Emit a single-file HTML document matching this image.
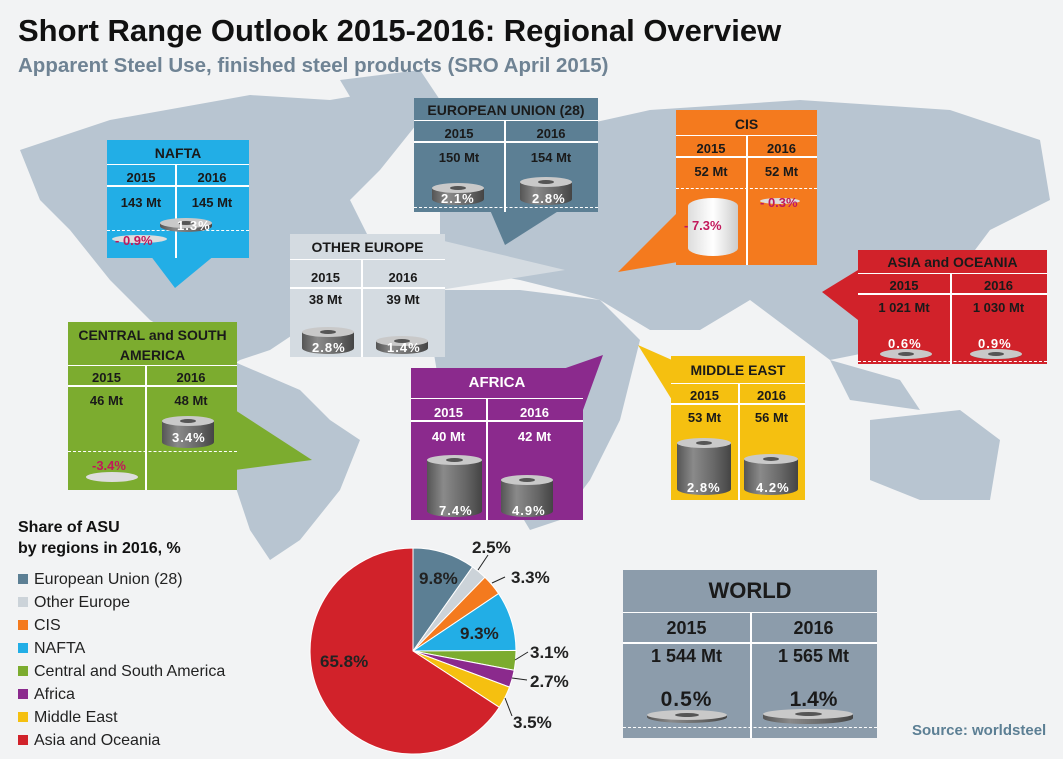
<!DOCTYPE html>
<html><head><meta charset="utf-8"><style>
body{margin:0;width:1063px;height:759px;overflow:hidden;background:#f2f3f4;font-family:"Liberation Sans",Arial,sans-serif;position:relative}
.abs{position:absolute}
.box{position:absolute;font-weight:bold;color:#1a1a1a;text-align:center;font-size:13px}
.box .h{position:absolute;left:0;right:0;top:0;border-bottom:1.5px solid #fff;font-size:14px}
.vl{position:absolute;width:1.5px;background:#fff}
.hl{position:absolute;height:1.5px;background:#fff}
.dl{position:absolute;height:0;border-top:1.5px dashed #fff}
.t{position:absolute;font-weight:bold;font-size:13px}
.cyl{position:absolute;background:linear-gradient(90deg,#555,#8a8a8a 30%,#666 70%,#444);border-radius:0 0 50% 50%/0 0 6px 6px}
.cyl:before{content:"";position:absolute;left:0;right:0;top:-5px;height:10px;border-radius:50%;background:#c9c9c9}
.cyl:after{content:"";position:absolute;left:35%;right:35%;top:-2px;height:4px;border-radius:50%;background:#555}
.pc{position:absolute;color:#fff;font-weight:bold;font-size:13px;letter-spacing:1px}
.leg{position:absolute;left:18px;font-size:16px;color:#222}
.leg i{display:inline-block;width:10px;height:10px;margin-right:6px}
</style></head><body>
<svg class="abs" style="left:0;top:0" width="1063" height="759">
<g fill="#b8c5d1">
<path d="M20 150 L110 120 L250 95 L330 100 L390 90 L420 120 L380 170 L350 200 L370 240 L330 290 L300 330 L270 350 L240 360 L210 380 L200 350 L150 320 L110 280 L70 230 L40 200 Z"/>
<path d="M340 80 L420 70 L440 100 L400 140 L370 130 Z"/>
<path d="M230 360 L300 390 L330 420 L360 440 L340 490 L300 540 L270 560 L250 530 L230 470 L220 410 Z"/>
<path d="M440 200 L480 160 L560 130 L650 110 L800 100 L950 110 L1040 140 L1050 200 L990 230 L960 270 L900 300 L880 350 L830 360 L790 330 L750 300 L700 330 L650 330 L600 300 L560 290 L520 280 L460 270 L440 240 Z"/>
<path d="M440 290 L520 290 L600 300 L640 340 L620 420 L590 480 L560 520 L530 530 L500 480 L480 420 L440 390 L430 330 Z"/>
<path d="M870 420 L960 410 L1000 440 L990 500 L920 500 L870 480 Z"/>
<path d="M830 360 L900 380 L920 410 L850 400 Z"/>
</g></svg>
<div class="abs" style="left:18px;top:13px;font-size:31px;font-weight:bold;color:#111">Short Range Outlook 2015-2016: Regional Overview</div>
<div class="abs" style="left:18px;top:54px;font-size:20.5px;font-weight:bold;color:#6f8394">Apparent Steel Use, finished steel products (SRO April 2015)</div>

<svg class="abs" style="left:0;top:0" width="1063" height="759">
<polygon points="150,255 215,255 175,288" fill="#22aee6"/>
<polygon points="490,210 560,210 505,245" fill="#5c7f94"/>
<polygon points="690,200 690,260 618,272" fill="#f47a1e"/>
<polygon points="440,240 440,290 565,270" fill="#d4dbe1"/>
<polygon points="858,270 858,320 822,292" fill="#d1222a"/>
<polygon points="235,410 235,470 312,460" fill="#7cac2f"/>
<polygon points="560,370 583,370 583,410 603,355" fill="#8b2a8d"/>
<polygon points="672,360 700,360 672,400 638,345" fill="#f5c010"/>
</svg>

<!-- NAFTA -->
<div class="box" style="left:107px;top:140px;width:142px;height:118px;background:#22aee6">
<div class="h" style="height:24px;line-height:27px">NAFTA</div>
<div class="vl" style="left:68px;top:24px;height:94px"></div><div class="hl" style="left:0;right:0;top:45px"></div>
<div class="t" style="left:0;width:68px;top:30px">2015</div><div class="t" style="left:68px;width:74px;top:30px">2016</div>
<div class="t" style="left:0;width:68px;top:55px">143 Mt</div><div class="t" style="left:68px;width:74px;top:55px">145 Mt</div>
<div class="dl" style="left:0;right:0;top:90px"></div>
<div class="cyl" style="left:53px;top:83px;width:52px;height:9px"></div><div class="pc" style="left:70px;top:78px">1.3%</div>
<div class="abs" style="left:5px;top:95px;width:55px;height:8px;background:#ddd;border-radius:50%"></div><div class="t" style="left:8px;top:93px;color:#c2185b">- 0.9%</div>
</div>
<!-- EU -->
<div class="box" style="left:414px;top:98px;width:184px;height:114px;background:#5c7f94">
<div class="h" style="height:22px;line-height:24px">EUROPEAN UNION (28)</div>
<div class="vl" style="left:90px;top:22px;height:92px"></div><div class="hl" style="left:0;right:0;top:43px"></div>
<div class="t" style="left:0;width:90px;top:28px">2015</div><div class="t" style="left:90px;width:94px;top:28px">2016</div>
<div class="t" style="left:0;width:90px;top:52px">150 Mt</div><div class="t" style="left:90px;width:94px;top:52px">154 Mt</div>
<div class="cyl" style="left:18px;top:90px;width:52px;height:17px"></div><div class="pc" style="left:27px;top:93px">2.1%</div>
<div class="cyl" style="left:106px;top:84px;width:52px;height:23px"></div><div class="pc" style="left:118px;top:93px">2.8%</div>
<div class="dl" style="left:0;right:0;top:109px"></div>
</div>
<!-- CIS -->
<div class="box" style="left:676px;top:110px;width:141px;height:155px;background:#f47a1e">
<div class="h" style="height:25px;line-height:28px">CIS</div>
<div class="vl" style="left:70px;top:25px;height:130px"></div><div class="hl" style="left:0;right:0;top:46px"></div>
<div class="t" style="left:0;width:70px;top:31px">2015</div><div class="t" style="left:70px;width:71px;top:31px">2016</div>
<div class="t" style="left:0;width:70px;top:54px">52 Mt</div><div class="t" style="left:70px;width:71px;top:54px">52 Mt</div>
<div class="dl" style="left:0;right:0;top:78px"></div>
<div class="abs" style="left:12px;top:88px;width:50px;height:58px;background:linear-gradient(90deg,#ddd,#fff,#ccc);border-radius:50%/8px"></div><div class="t" style="left:8px;top:108px;color:#c2185b">- 7.3%</div>
<div class="abs" style="left:84px;top:88px;width:40px;height:6px;background:#ddd;border-radius:50%"></div><div class="t" style="left:84px;top:85px;color:#c2185b">- 0.3%</div>
</div>
<!-- Other Europe -->
<div class="box" style="left:290px;top:234px;width:155px;height:123px;background:#d4dbe1">
<div class="h" style="height:25px;line-height:27px">OTHER EUROPE</div>
<div class="vl" style="left:71px;top:25px;height:98px"></div><div class="hl" style="left:0;right:0;top:53px"></div>
<div class="t" style="left:0;width:71px;top:36px">2015</div><div class="t" style="left:71px;width:84px;top:36px">2016</div>
<div class="t" style="left:0;width:71px;top:58px">38 Mt</div><div class="t" style="left:71px;width:84px;top:58px">39 Mt</div>
<div class="cyl" style="left:12px;top:98px;width:52px;height:22px"></div><div class="pc" style="left:22px;top:106px">2.8%</div>
<div class="cyl" style="left:86px;top:107px;width:52px;height:13px"></div><div class="pc" style="left:97px;top:106px">1.4%</div>
</div>
<!-- Asia -->
<div class="box" style="left:858px;top:250px;width:189px;height:114px;background:#d1222a">
<div class="h" style="height:23px;line-height:25px">ASIA and OCEANIA</div>
<div class="vl" style="left:92px;top:23px;height:91px"></div><div class="hl" style="left:0;right:0;top:43px"></div>
<div class="t" style="left:0;width:92px;top:28px">2015</div><div class="t" style="left:92px;width:97px;top:28px">2016</div>
<div class="t" style="left:0;width:92px;top:50px">1 021 Mt</div><div class="t" style="left:92px;width:97px;top:50px">1 030 Mt</div>
<div class="pc" style="left:30px;top:86px;color:#fff">0.6%</div><div class="pc" style="left:120px;top:86px">0.9%</div>
<div class="cyl" style="left:22px;top:104px;width:52px;height:4px"></div><div class="cyl" style="left:112px;top:104px;width:52px;height:5px"></div>
<div class="dl" style="left:0;right:0;top:111px"></div>
</div>
<!-- CSA -->
<div class="box" style="left:68px;top:322px;width:169px;height:168px;background:#7cac2f">
<div class="h" style="height:40px;line-height:20px;padding-top:3px">CENTRAL and SOUTH<br>AMERICA</div>
<div class="vl" style="left:77px;top:43px;height:125px"></div><div class="hl" style="left:0;right:0;top:63px"></div>
<div class="t" style="left:0;width:77px;top:48px">2015</div><div class="t" style="left:77px;width:92px;top:48px">2016</div>
<div class="t" style="left:0;width:77px;top:71px">46 Mt</div><div class="t" style="left:77px;width:92px;top:71px">48 Mt</div>
<div class="cyl" style="left:94px;top:99px;width:52px;height:27px"></div><div class="pc" style="left:104px;top:108px">3.4%</div>
<div class="dl" style="left:0;right:0;top:129px"></div>
<div class="abs" style="left:18px;top:150px;width:52px;height:10px;background:#ddd;border-radius:50%"></div><div class="t" style="left:24px;top:136px;color:#c2185b">-3.4%</div>
</div>
<!-- Africa -->
<div class="box" style="left:411px;top:368px;width:172px;height:152px;background:#8b2a8d;color:#fff">
<div class="h" style="height:30px;line-height:30px;font-size:15px">AFRICA</div>
<div class="vl" style="left:75px;top:30px;height:122px"></div><div class="hl" style="left:0;right:0;top:52px"></div>
<div class="t" style="left:0;width:75px;top:37px">2015</div><div class="t" style="left:75px;width:97px;top:37px">2016</div>
<div class="t" style="left:0;width:75px;top:61px">40 Mt</div><div class="t" style="left:75px;width:97px;top:61px">42 Mt</div>
<div class="cyl" style="left:16px;top:92px;width:55px;height:57px"></div><div class="pc" style="left:28px;top:135px">7.4%</div>
<div class="cyl" style="left:90px;top:112px;width:52px;height:37px"></div><div class="pc" style="left:101px;top:135px">4.9%</div>
</div>
<!-- ME -->
<div class="box" style="left:671px;top:356px;width:134px;height:144px;background:#f5c010">
<div class="h" style="height:27px;line-height:28px">MIDDLE EAST</div>
<div class="vl" style="left:67px;top:27px;height:117px"></div><div class="hl" style="left:0;right:0;top:47px"></div>
<div class="t" style="left:0;width:67px;top:32px">2015</div><div class="t" style="left:67px;width:67px;top:32px">2016</div>
<div class="t" style="left:0;width:67px;top:54px">53 Mt</div><div class="t" style="left:67px;width:67px;top:54px">56 Mt</div>
<div class="cyl" style="left:6px;top:87px;width:54px;height:52px"></div><div class="pc" style="left:16px;top:124px">2.8%</div>
<div class="cyl" style="left:73px;top:103px;width:54px;height:36px"></div><div class="pc" style="left:85px;top:124px">4.2%</div>
</div>
<!-- World -->
<div class="box" style="left:623px;top:570px;width:254px;height:168px;background:#8c9cab">
<div class="h" style="height:42px;line-height:42px;font-size:22px">WORLD</div>
<div class="vl" style="left:127px;top:42px;height:126px"></div><div class="hl" style="left:0;right:0;top:72px"></div>
<div class="t" style="left:0;width:127px;top:48px;font-size:18px">2015</div><div class="t" style="left:127px;width:127px;top:48px;font-size:18px">2016</div>
<div class="t" style="left:0;width:127px;top:76px;font-size:18px">1 544 Mt</div><div class="t" style="left:127px;width:127px;top:76px;font-size:18px">1 565 Mt</div>
<div class="t" style="left:0;width:127px;top:118px;font-size:21px;letter-spacing:1px">0.5%</div><div class="t" style="left:127px;width:127px;top:118px;font-size:21px">1.4%</div>
<div class="cyl" style="left:24px;top:145px;width:80px;height:8px"></div><div class="cyl" style="left:140px;top:144px;width:90px;height:10px"></div>
<div class="dl" style="left:0;right:0;top:157px"></div>
</div>
<div class="abs" style="left:912px;top:722px;font-size:15px;font-weight:bold;color:#5c7f94">Source: worldsteel</div>

<!-- Legend -->
<div class="abs" style="left:18px;top:517px;font-size:16px;font-weight:bold;line-height:21px;color:#111">Share of ASU<br>by regions in 2016, %</div>
<div class="leg" style="top:571px"><i style="background:#5c7f94"></i>European Union (28)</div>
<div class="leg" style="top:594px"><i style="background:#ccd3d9"></i>Other Europe</div>
<div class="leg" style="top:617px"><i style="background:#f47a1e"></i>CIS</div>
<div class="leg" style="top:640px"><i style="background:#22aee6"></i>NAFTA</div>
<div class="leg" style="top:663px"><i style="background:#7cac2f"></i>Central and South America</div>
<div class="leg" style="top:686px"><i style="background:#8b2a8d"></i>Africa</div>
<div class="leg" style="top:709px"><i style="background:#f5c010"></i>Middle East</div>
<div class="leg" style="top:732px"><i style="background:#d1222a"></i>Asia and Oceania</div>

<svg class="abs" style="left:0;top:0" width="1063" height="759" font-family="Liberation Sans, Arial, sans-serif" font-weight="bold" font-size="17">
<g stroke="#fff" stroke-width="1">
<path d="M413 651 L413 548 A103 103 0 0 1 472.5 566.9 Z" fill="#5c7f94"/>
<path d="M413 651 L472.5 566.9 A103 103 0 0 1 484.9 577.3 Z" fill="#ccd3d9"/>
<path d="M413 651 L484.9 577.3 A103 103 0 0 1 498.6 593.6 Z" fill="#f47a1e"/>
<path d="M413 651 L498.6 593.6 A103 103 0 0 1 516 650.4 Z" fill="#22aee6"/>
<path d="M413 651 L516 650.4 A103 103 0 0 1 514.2 670.3 Z" fill="#7cac2f"/>
<path d="M413 651 L514.2 670.3 A103 103 0 0 1 509.5 687.1 Z" fill="#8b2a8d"/>
<path d="M413 651 L509.5 687.1 A103 103 0 0 1 499.3 707.3 Z" fill="#f5c010"/>
<path d="M413 651 L499.3 707.3 A103 103 0 1 1 413 548 Z" fill="#d1222a"/>
</g>
<g stroke="#222" stroke-width="1"><line x1="478" y1="570" x2="488" y2="555"/><line x1="492" y1="583" x2="505" y2="577"/><line x1="515" y1="660" x2="528" y2="652"/><line x1="512" y1="678" x2="527" y2="680"/><line x1="505" y1="698" x2="512" y2="716"/></g>
<text x="419" y="584" fill="#222">9.8%</text>
<text x="472" y="553" fill="#222">2.5%</text>
<text x="511" y="583" fill="#222">3.3%</text>
<text x="460" y="639" fill="#222">9.3%</text>
<text x="530" y="658" fill="#222">3.1%</text>
<text x="530" y="687" fill="#222">2.7%</text>
<text x="513" y="728" fill="#222">3.5%</text>
<text x="320" y="667" fill="#222">65.8%</text>
</svg>
</body></html>
